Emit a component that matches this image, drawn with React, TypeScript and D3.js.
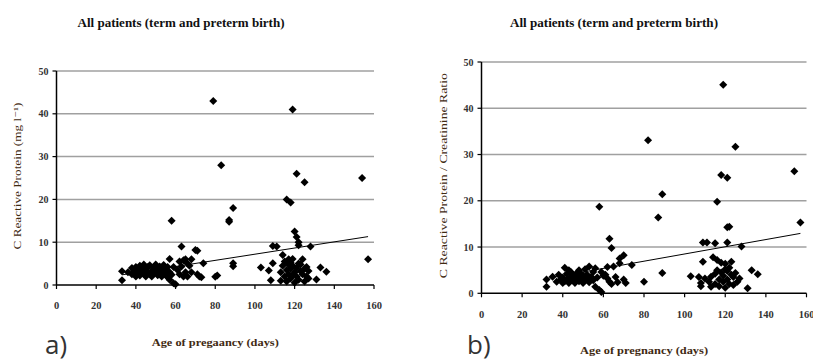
import React from 'react';
import * as d3 from 'd3';

// axis ticks
const ageTicks = [0, 20, 40, 60, 80, 100, 120, 140, 160];
const valueTicks = [0, 10, 20, 30, 40, 50];

// panel a) C reactive protein (mg/l) against age of pregnancy (days)
const crpAge = [
  33, 33, 36, 38, 38, 39, 40, 40, 40, 41, 41, 42, 42, 43, 43, 44, 44, 45, 45, 46,
  46, 47, 47, 48, 48, 49, 49, 50, 50, 51, 51, 52, 52, 53, 53, 54, 54, 55, 55, 56,
  56, 57, 57, 57, 58, 58, 59, 60, 59, 61, 62, 62, 63, 63, 64, 64, 65, 65, 66, 66,
  67, 68, 68, 70, 71, 71, 72, 73, 74, 79, 80, 81, 83, 87, 87, 89, 89, 89, 103, 107,
  108, 109, 109, 111, 113, 113, 114, 114, 115, 115, 116, 116, 116, 117, 117, 117, 118, 118, 118, 118,
  119, 119, 119, 119, 120, 120, 120, 121, 121, 121, 121, 122, 122, 122, 122, 123, 123, 124, 124, 125,
  125, 125, 126, 126, 127, 128, 127, 131, 133, 136, 154, 157,
];
const crpValue = [
  3.2, 1.1, 3, 2.5, 4, 3.5, 2, 3, 4.2, 2.8, 3.6, 4.5, 2.2, 3.2, 4, 2.6, 4.8, 3.5, 2, 4.2,
  3, 2.5, 4.6, 3.3, 2, 4, 2.8, 3.6, 4.8, 2.3, 3.2, 4.3, 2.7, 3.8, 2, 4.7, 3, 2.4, 3.6, 4.2,
  1.8, 6.1, 3, 1.2, 15, 2.4, 0.4, 0.2, 4.2, 3.5, 5.5, 2.5, 9, 4.3, 2, 5.8, 6, 3, 5, 2,
  4.5, 6, 3, 8.2, 8, 2.5, 2, 1.8, 5.1, 43, 1.9, 2.2, 28, 15.2, 14.8, 18, 5.1, 4.4, 4.1, 3.4,
  1.1, 5.1, 9.1, 9, 3, 1, 7, 4.5, 2, 5.5, 20, 3.5, 0.8, 6, 2.5, 4.8, 19.3, 1.5, 3.8, 5.2,
  41, 2.2, 4.5, 6.1, 3, 0.5, 12.5, 26, 11.2, 4, 2, 10, 9.3, 5, 1.2, 3.2, 4.8, 6, 2.5, 24,
  3.8, 0.8, 4.2, 2, 1.5, 9, 3.3, 1.3, 4.1, 3.1, 25, 6,
];
const crpTrend = [0.0, 0.072]; // intercept, slope

// panel b) C reactive protein / creatinine ratio against age of pregnancy (days)
const ratioAge = [
  32, 32, 35, 37, 38, 39, 40, 40, 41, 41, 42, 42, 43, 43, 44, 44, 45, 45, 46, 46,
  47, 47, 48, 48, 49, 49, 50, 50, 51, 51, 52, 52, 53, 53, 54, 55, 55, 56, 56, 57,
  58, 58, 59, 59, 60, 61, 62, 62, 63, 63, 64, 64, 65, 66, 67, 68, 68, 70, 70, 71,
  74, 80, 82, 87, 89, 89, 103, 107, 108, 108, 109, 109, 110, 111, 112, 113, 113, 114, 115, 115,
  115, 116, 116, 116, 117, 117, 118, 118, 118, 119, 119, 119, 120, 120, 120, 121, 121, 121, 121, 122,
  121, 122, 122, 123, 123, 124, 124, 125, 125, 126, 127, 128, 131, 133, 136, 154, 157,
];
const ratioValue = [
  3, 1.4, 3.6, 2.5, 4, 3, 2.2, 3.4, 5.5, 2.6, 4.2, 3, 5, 2.2, 3.6, 4.6, 2.8, 4, 3.3, 2.2,
  4.4, 3.6, 2.6, 5, 3.2, 4.2, 2.2, 3.8, 5.2, 2.8, 4, 3.2, 5.8, 2.4, 3.6, 4.6, 2.8, 1.4, 5.4, 3.4,
  18.7, 0.7, 0.3, 4.6, 3.8, 4, 5.7, 3.2, 11.8, 2.5, 9.8, 2, 5.8, 3.5, 2.4, 6.5, 7.5, 8.2, 3, 2.2,
  6.1, 2.5, 33.1, 16.4, 21.4, 4.4, 3.7, 3.5, 2.2, 1.5, 6.8, 11, 3.2, 11, 2.5, 1.4, 3.6, 7.8, 10.8, 4.2,
  2, 19.8, 7.2, 5, 3, 1.5, 25.6, 4.5, 6.6, 45.1, 2.5, 3.8, 6.4, 5.2, 1.2, 14.3, 11, 4.8, 3, 14.4,
  25, 2, 5.5, 4, 6.8, 3.5, 1.8, 31.7, 4.4, 2.5, 3.2, 10.1, 1.1, 5, 4.1, 26.4, 15.3,
];
const ratioTrend = [0.7, 0.078];

const serif = '"Liberation Serif", "DejaVu Serif", serif';
const labelColor = '#3f2a12';

type PanelProps = {
  x0: number; x1: number; y0: number; y1: number;
  ages: number[]; values: number[]; trend: number[];
  title: string; titleX: number; titleY: number; titleLen: number;
  yLabel: string; yLabelX: number; yLabelLen: number;
  xLabel: string; xLabelY: number; xLabelLen: number;
  tag: string; tagX: number;
  xTickY: number;
};

const Panel = (p: PanelProps) => {
  const x = d3.scaleLinear().domain([0, 160]).range([p.x0, p.x1]);
  const y = d3.scaleLinear().domain([0, 50]).range([p.y1, p.y0]);
  const diamond = d3.symbol(d3.symbolSquare, 32)();
  const [a, b] = p.trend;
  const xs = d3.extent(p.ages) as [number, number];
  const line = d3.line<number>().x(d => x(d)).y(d => y(a + b * d));
  const midY = (p.y0 + p.y1) / 2 - 2;

  return (
    <g>
      <text x={p.titleX} y={p.titleY} fontFamily={serif} fontWeight="bold" fontSize={12.5}
        textAnchor="middle" textLength={p.titleLen} lengthAdjust="spacingAndGlyphs" fill="#111">
        {p.title}
      </text>

      {/* grid */}
      {valueTicks.filter(v => v > 0).map(v => (
        <line key={v} x1={p.x0} x2={p.x1} y1={y(v)} y2={y(v)} stroke="#a0a0a0" strokeWidth={1.5} />
      ))}

      {/* y axis */}
      <line x1={p.x0} x2={p.x0} y1={p.y0} y2={p.y1} stroke="#000" strokeWidth={1.5} />
      {valueTicks.map(v => (
        <g key={v}>
          <line x1={p.x0 - 4} x2={p.x0} y1={y(v)} y2={y(v)} stroke="#000" strokeWidth={1.2} />
          <text x={p.x0 - 8} y={y(v)} dy="0.35em" textAnchor="end" fontFamily={serif}
            fontSize={10} fontWeight="bold" fill="#333">{v}</text>
        </g>
      ))}

      {/* x axis */}
      <line x1={p.x0} x2={p.x1} y1={p.y1} y2={p.y1} stroke="#000" strokeWidth={1.5} />
      {ageTicks.map(t => (
        <g key={t}>
          <line x1={x(t)} x2={x(t)} y1={p.y1} y2={p.y1 + 4} stroke="#000" strokeWidth={1.2} />
          <text x={x(t)} y={p.xTickY} dy="0.35em" textAnchor="middle" fontFamily={serif}
            fontSize={10.5} fontWeight="bold" fill="#333">{t}</text>
        </g>
      ))}

      {/* points */}
      {p.ages.map((d, i) => (
        <path key={i} d={diamond!} fill="#000"
          transform={`translate(${x(d)},${y(p.values[i])}) rotate(45)`} />
      ))}

      {/* linear trend */}
      <path d={line(xs)!} stroke="#000" strokeWidth={1} fill="none" />

      <text transform={`translate(${p.yLabelX},${midY}) rotate(-90)`} textAnchor="middle"
        fontFamily={serif} fontSize={11} fill={labelColor} textLength={p.yLabelLen}
        lengthAdjust="spacingAndGlyphs">
        {p.yLabel}
      </text>

      <text x={(p.x0 + p.x1) / 2} y={p.xLabelY} textAnchor="middle" fontFamily={serif}
        fontSize={11} fontWeight="bold" fill={labelColor} textLength={p.xLabelLen}
        lengthAdjust="spacingAndGlyphs">
        {p.xLabel}
      </text>

      <text x={p.tagX} y={354} fontFamily='"Open Sans", sans-serif' fontSize={26} fill="#333">
        {p.tag}
      </text>
    </g>
  );
};

const App = () => (
  <svg width={813} height={361} style={{ position: 'absolute', left: 0, top: 0, background: '#fff' }}>
    <Panel x0={56.5} x1={374} y0={71} y1={285}
      ages={crpAge} values={crpValue} trend={crpTrend}
      title="All patients (term and preterm birth)" titleX={181} titleY={27} titleLen={207}
      yLabel="C Reactive Protein (mg l⁻¹)" yLabelX={21} yLabelLen={147}
      xLabel="Age of pregaancy (days)" xLabelY={346} xLabelLen={127}
      tag="a)" tagX={45} xTickY={305} />
    <Panel x0={481.5} x1={806.5} y0={62} y1={293.3}
      ages={ratioAge} values={ratioValue} trend={ratioTrend}
      title="All patients (term and preterm birth)" titleX={614} titleY={27} titleLen={208}
      yLabel="C Reactive Protein / Creatinine Ratio" yLabelX={447} yLabelLen={205}
      xLabel="Age of pregnancy (days)" xLabelY={354} xLabelLen={128}
      tag="b)" tagX={467} xTickY={314} />
  </svg>
);

export default App;
